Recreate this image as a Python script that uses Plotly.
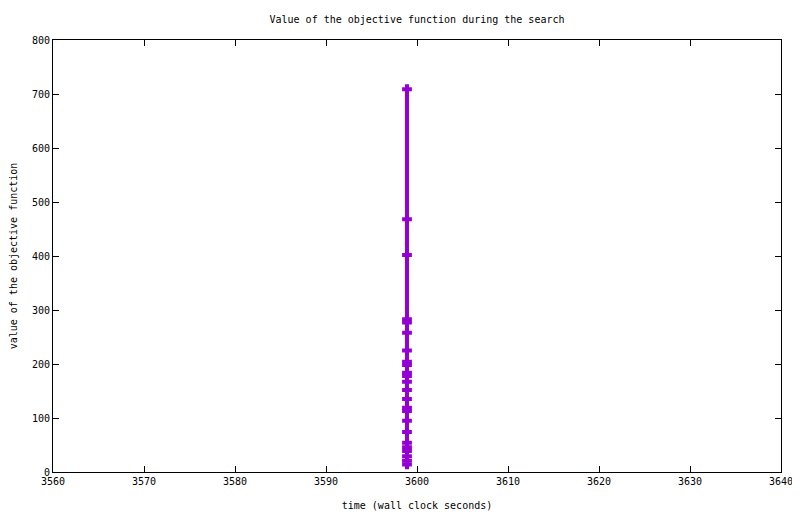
import plotly.graph_objs as go

# objective value samples, all logged at (roughly) the same wall clock time
objective = [709, 468, 402, 283, 277, 258, 225, 204, 198, 184, 178, 167,
             152, 135, 119, 113, 95, 74, 54, 46, 39, 29, 21, 14, 6]
time_s = [3598.9] * len(objective)

x_ticks = [3560, 3570, 3580, 3590, 3600, 3610, 3620, 3630, 3640]
y_ticks = [0, 100, 200, 300, 400, 500, 600, 700, 800]

mono = "DejaVu Sans Mono"

fig = go.Figure()
fig.add_trace(go.Scatter(x=time_s[:-1], y=objective[:-1], mode='lines+markers',
                         line=dict(color='#9400D3', width=4),
                         marker=dict(symbol='cross-thin', size=7,
                                     line=dict(color='#9400D3', width=4)),
                         showlegend=False))
# line tail past the last marker
fig.add_trace(go.Scatter(x=time_s[-2:], y=objective[-2:], mode='lines',
                         line=dict(color='#9400D3', width=4), showlegend=False))

axis_style = dict(showline=True, linewidth=1, linecolor='black', mirror='allticks',
                  ticks='inside', ticklen=6, tickcolor='black', showgrid=False,
                  zeroline=False, automargin=False,
                  tickfont=dict(family=mono, size=10, color='black'))

# page body has an 8px margin, so the figure is a bit smaller than the window
fig.update_layout(
    width=792, height=506,
    margin=dict(l=45, r=19, t=32, b=42),
    plot_bgcolor='white', paper_bgcolor='white',
    title=dict(text="Value of the objective function during the search",
               x=0.5, xref='paper', y=1 - 11 / 506, yref='container',
               xanchor='center', yanchor='middle',
               font=dict(family=mono, size=10, color='black')),
    xaxis=dict(range=[3560, 3640], tickvals=x_ticks,
               title=dict(text="time (wall clock seconds)", standoff=15,
                          font=dict(family=mono, size=10, color='black')),
               **axis_style),
    yaxis=dict(range=[0, 800], tickvals=y_ticks,
               title=dict(text="value of the objective function", standoff=16,
                          font=dict(family=mono, size=10, color='black')),
               **axis_style),
)

fig.write_html("out.html")
